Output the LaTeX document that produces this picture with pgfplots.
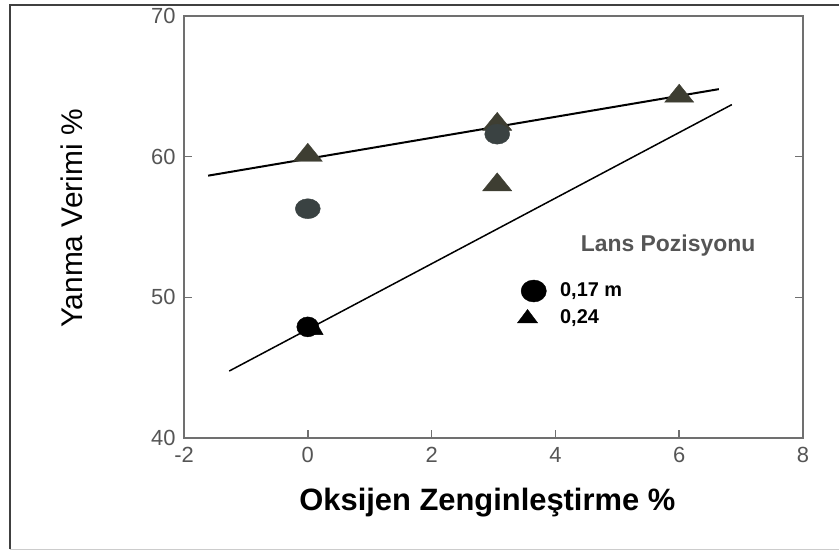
\documentclass[border=0pt]{standalone}
\usepackage{pgfplots}
\pgfplotsset{compat=1.18}
\usepackage{fontspec}
\setmainfont{Liberation Sans}
\definecolor{axgray}{HTML}{707070}
\definecolor{txtgray}{HTML}{555555}
\definecolor{circgray}{HTML}{3A4242}
\definecolor{trigray}{HTML}{3E3E32}

\begin{document}
\begin{tikzpicture}
\useasboundingbox (0,0) rectangle (839bp,-551bp);
\draw[line width=1.5bp, black!75] (10bp,-549bp) -- (10bp,-5bp) -- (845bp,-5bp);
\draw[line width=1bp, black!20] (10bp,-549bp) -- (845bp,-549bp);
\begin{axis}[
    at={(184bp,-438bp)}, anchor=south west,
    scale only axis, width=619bp, height=422bp,
    xmin=-2, xmax=8, ymin=40, ymax=70,
    xtick={-2,0,2,4,6,8}, ytick={40,50,60,70},
    xtick pos=bottom, ytick pos=both, yticklabel pos=left,
    tick align=inside, major tick length=8bp,
    tick style={axgray, line width=1.5bp},
    axis line style={axgray, line width=1.2bp},
    /pgf/number format/assume math mode=true,
    ticklabel style={txtgray, font=\fontsize{22}{26}\selectfont},
    xticklabel style={yshift=-6bp},
    yticklabel style={xshift=-5bp},
    xlabel={\bfseries Oksijen Zenginleştirme \%},
    ylabel={Yanma Verimi \%},
    xlabel style={font=\fontsize{31}{36}\selectfont, at={(axis description cs:0.49,0)}, anchor=center, yshift=-65bp},
    ylabel style={font=\fontsize{30}{36}\selectfont, at={(axis description cs:0,0.52)}, anchor=center, rotate=0, yshift=112bp},
    clip=false,
]
% fitted lines
\addplot[black, line width=2bp] coordinates {(-1.61,58.65) (6.64,64.8)};
\addplot[black, line width=1.5bp] coordinates {(-1.27,44.76) (6.85,63.7)};
% 0,24 (triangles)
\addplot[only marks, mark=triangle*, mark size=12bp, mark options={trigray, xscale=1.4}] coordinates {(0,60.1) (3.06,58.0) (3.06,62.3) (6.0,64.3)};
\addplot[only marks, mark=triangle*, mark size=7bp, mark options={black}] coordinates {(0.15,47.6)};
% 0,17 m (circles)
\addplot[only marks, mark=*, mark size=10bp, mark options={circgray, xscale=1.25}] coordinates {(0,56.3) (3.06,61.6)};
\addplot[only marks, mark=*, mark size=10bp, mark options={black, xscale=1.1}] coordinates {(0,47.9)};
% legend
\addplot[only marks, mark=*, mark size=11bp, mark options={black, xscale=1.15}] coordinates {(3.65,50.45)};
\addplot[only marks, mark=triangle*, mark size=9bp, mark options={black, xscale=1.3}] coordinates {(3.55,48.5)};
\node[anchor=west, font=\fontsize{20}{22}\selectfont\bfseries] at (axis cs:4.02,50.45) {0,17 m};
\node[anchor=west, font=\fontsize{20}{22}\selectfont\bfseries] at (axis cs:4.02,48.5) {0,24};
\node[txtgray, font=\fontsize{23}{26}\selectfont\bfseries] at (axis cs:5.82,53.7) {Lans Pozisyonu};
\end{axis}
\end{tikzpicture}
\end{document}
